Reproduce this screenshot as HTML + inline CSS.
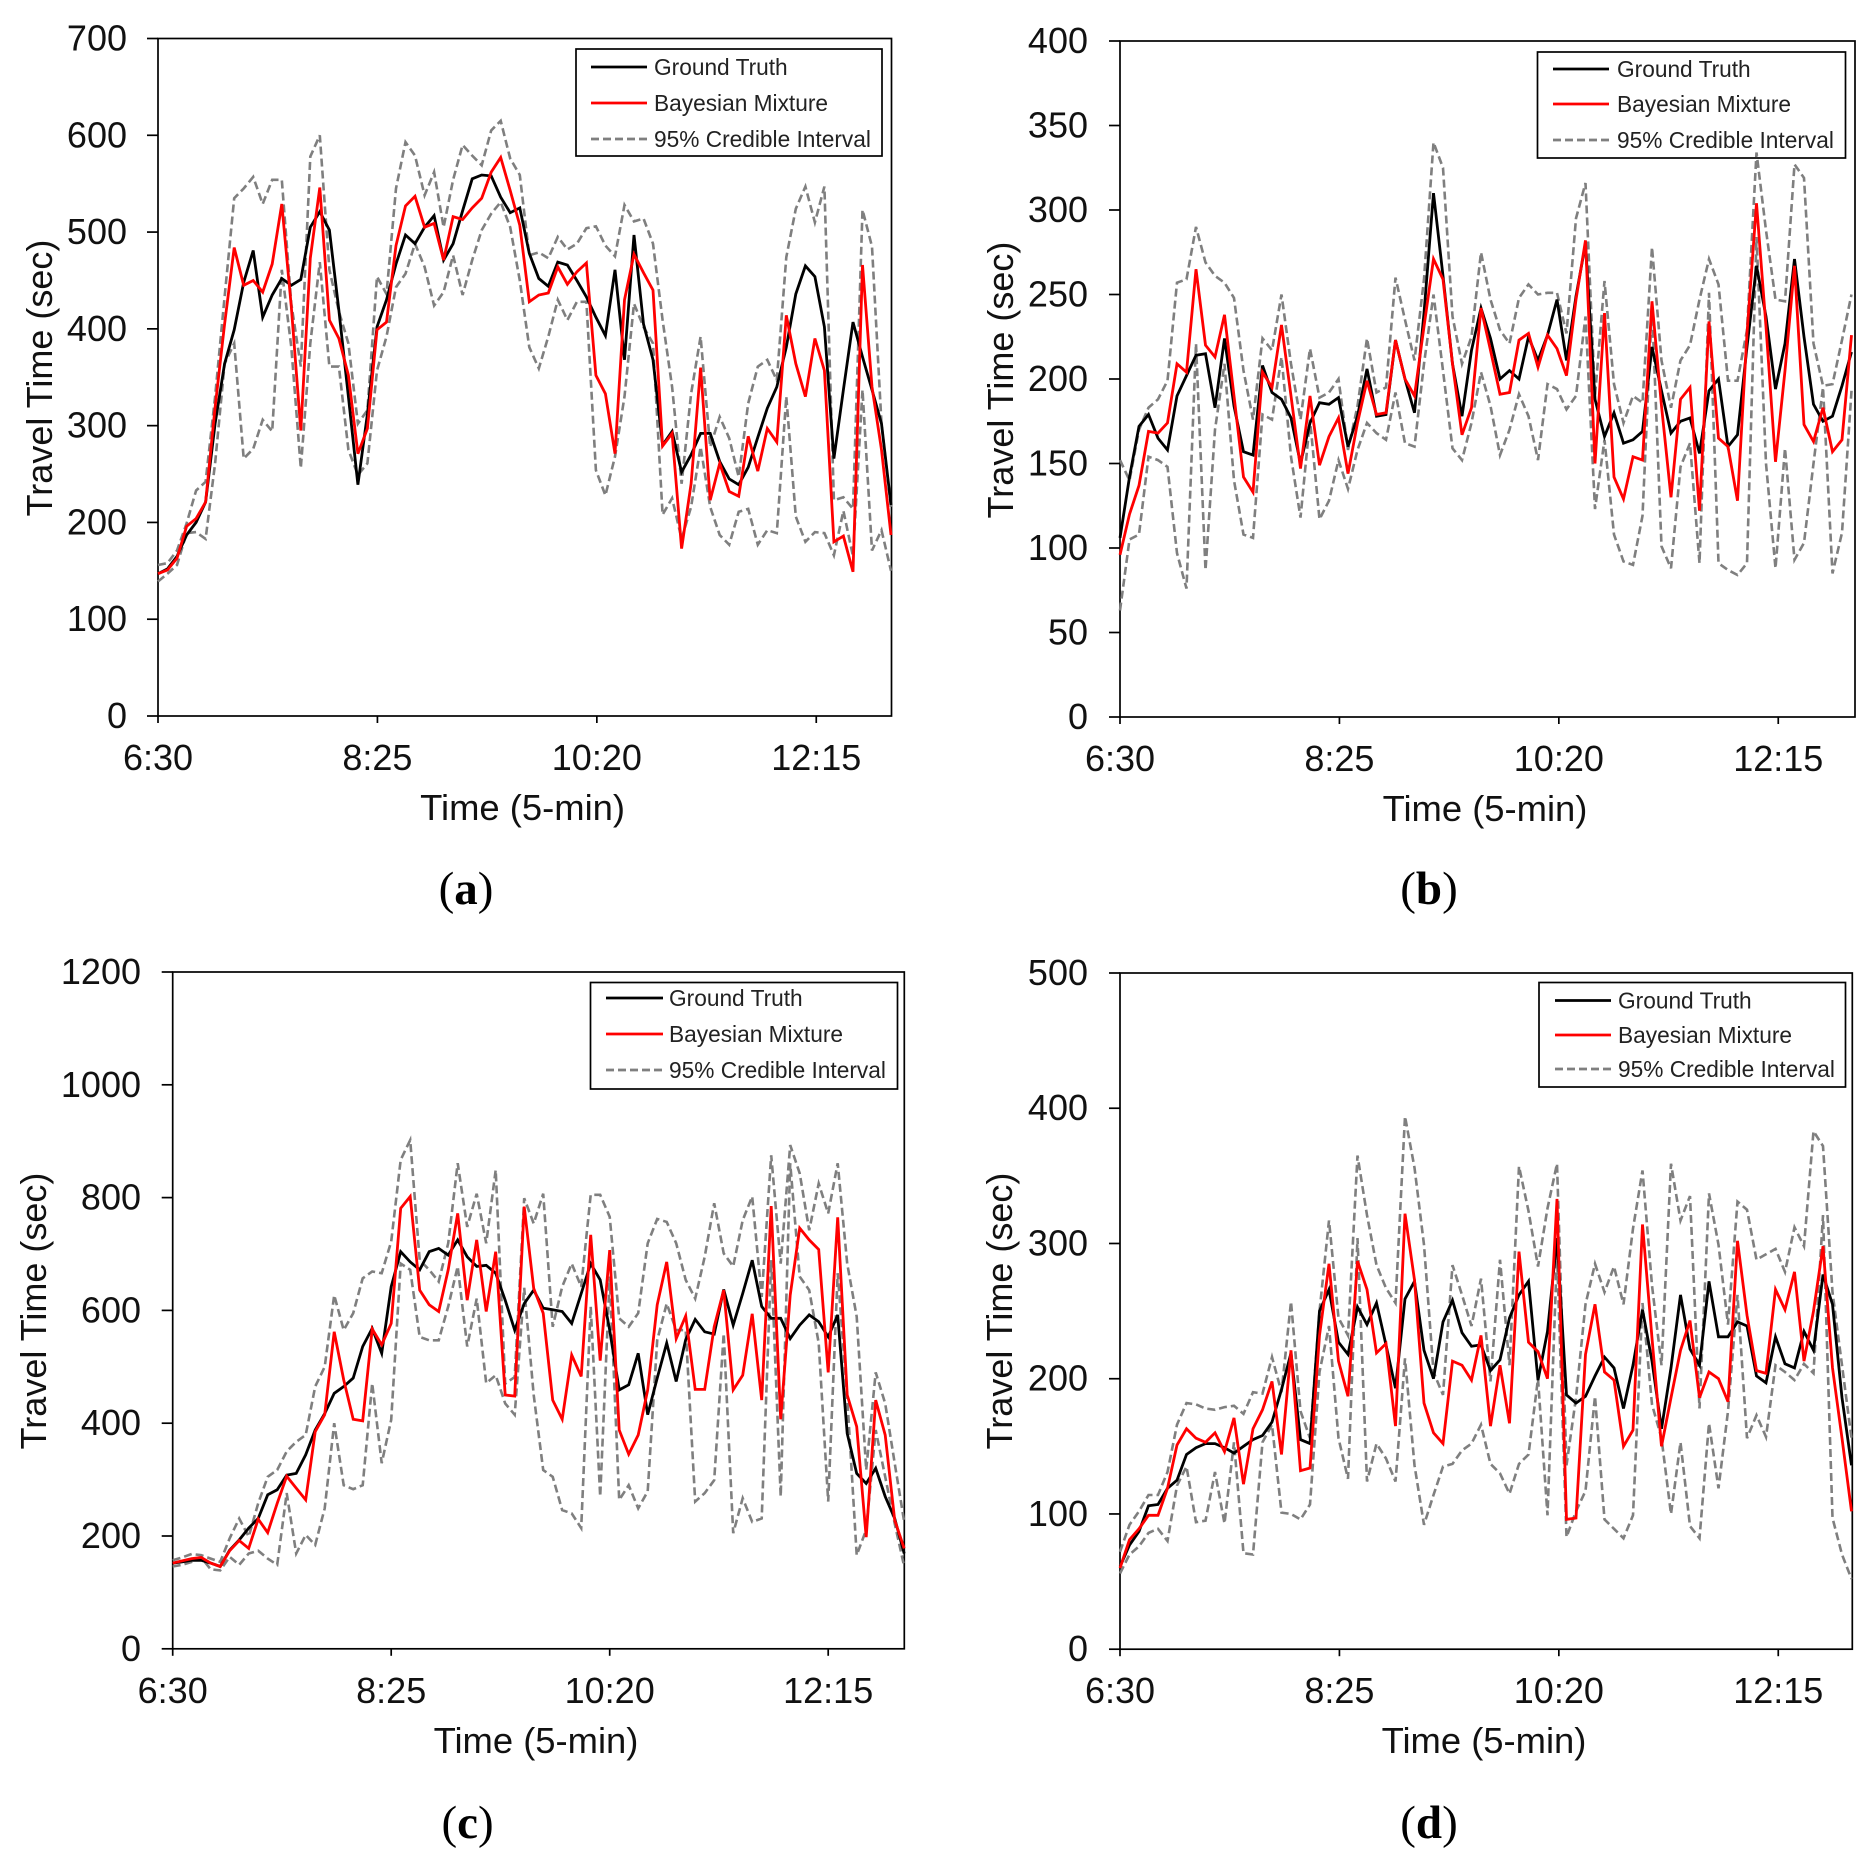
<!DOCTYPE html>
<html lang="en">
<head>
<meta charset="utf-8">
<title>Travel time predictions</title>
<style>
html,body{margin:0;padding:0;background:#fff;}
svg{display:block;font-family:"Liberation Sans",Arial,sans-serif;}
</style>
</head>
<body>
<svg id="figure" xmlns="http://www.w3.org/2000/svg" width="1875" height="1859" viewBox="0 0 1875 1859"></svg>
<script>
const xTickIndex = [0, 23, 46, 69];
const xTickLabels = ["6:30", "8:25", "10:20", "12:15"];
const seriesNames = ["Ground Truth", "Bayesian Mixture", "95% Credible Interval"];

const yTicksA = [0, 100, 200, 300, 400, 500, 600, 700];
const yTicksB = [0, 50, 100, 150, 200, 250, 300, 350, 400];
const yTicksC = [0, 200, 400, 600, 800, 1000, 1200];
const yTicksD = [0, 100, 200, 300, 400, 500];

const truthA = [147,152,165,187,200,221,302,364,399,448,481,412,435,452,445,451,505,521,502,419,330,239,312,402,430,467,497,488,505,517,471,488,522,555,559,558,536,520,525,478,452,444,469,466,450,433,412,393,461,368,497,405,368,280,294,252,270,292,292,263,245,239,257,288,318,340,381,436,465,454,402,266,337,407,371,337,302,218];
const mixtureA = [147,151,163,196,204,221,319,405,484,445,450,438,467,529,423,295,473,546,409,390,352,271,297,399,407,486,527,537,505,509,471,516,513,525,535,562,577,543,507,428,435,437,464,446,459,468,352,333,271,430,477,458,440,279,292,173,240,360,223,261,232,227,289,253,297,283,414,364,330,390,357,180,186,149,466,340,275,187];
const upperA = [156,158,171,199,233,242,330,433,535,545,557,529,554,554,426,361,578,600,461,418,385,302,316,454,436,545,593,579,538,562,505,554,590,579,569,605,615,576,559,476,479,473,495,482,488,504,506,486,475,528,511,514,488,409,340,240,333,392,278,309,287,247,323,361,368,347,474,524,547,510,547,223,226,214,523,485,302,216];
const lowerA = [139,147,156,189,190,183,261,364,385,266,276,306,294,461,381,256,385,469,361,361,275,249,261,357,392,443,457,488,464,424,438,476,435,471,502,519,531,505,450,381,359,392,430,409,428,428,254,228,268,330,426,402,385,208,225,183,216,278,216,187,177,211,214,177,192,189,330,206,180,190,189,166,212,165,337,171,192,150];

const truthB = [106,142,172,179,165,158,190,202,214,215,183,224,184,157,155,208,192,188,177,150,174,186,185,189,160,178,206,178,179,223,200,180,239,310,261,209,178,217,242,224,200,205,200,225,211,226,247,211,249,280,188,166,180,162,164,169,219,193,168,175,177,156,193,200,160,167,219,267,237,194,221,271,225,185,175,178,196,216];
const mixtureB = [96,120,137,169,168,174,209,204,265,220,213,238,190,142,133,204,195,232,190,147,190,149,166,177,144,174,199,179,180,223,200,190,231,271,259,209,167,183,242,217,191,192,223,227,207,226,218,202,247,282,150,239,142,129,154,152,246,184,130,188,195,122,234,165,160,128,227,304,231,151,205,267,173,163,183,157,164,226];
const upperB = [152,140,170,183,188,199,257,259,290,269,261,257,248,205,176,224,217,250,209,176,218,189,192,200,158,184,224,192,195,260,235,211,259,340,325,237,209,225,275,247,229,221,248,256,250,251,251,227,295,316,190,258,197,174,190,186,278,211,183,211,220,247,271,256,199,199,229,334,288,247,246,327,319,221,196,197,223,250];
const lowerB = [63,105,108,154,152,148,97,76,221,87,170,209,140,108,106,179,176,213,154,118,176,117,128,152,135,158,174,168,164,192,162,160,209,250,205,159,152,174,204,184,155,170,191,178,152,197,194,182,190,237,123,164,108,92,90,119,243,101,88,148,162,91,251,91,87,84,91,284,150,88,159,93,103,150,195,85,109,193];

const truthC = [152,154,157,157,152,146,175,193,214,231,273,282,308,311,344,388,417,453,465,480,536,568,524,642,704,686,672,704,710,698,725,695,678,680,666,618,565,612,636,604,601,598,577,630,683,654,565,459,468,524,415,480,542,474,548,584,562,558,637,574,630,689,607,586,586,550,574,592,580,553,592,382,311,293,320,270,231,169];
const mixtureC = [152,156,160,162,152,146,174,192,178,230,206,258,306,285,264,385,415,562,477,407,404,567,539,577,781,802,636,610,598,672,772,618,725,598,704,450,448,784,639,595,441,407,521,483,734,511,707,388,345,379,459,610,686,550,590,460,460,571,636,459,485,594,441,785,407,627,746,725,708,490,765,450,394,198,441,379,228,178];
const upperC = [157,162,168,166,160,154,196,231,199,258,305,317,350,367,379,465,500,627,565,595,657,669,666,722,867,902,689,672,651,719,861,748,807,719,849,470,482,799,754,807,571,642,683,642,805,805,766,586,571,595,719,762,757,719,654,621,695,790,701,678,760,802,624,875,683,893,843,742,825,772,861,683,589,317,490,435,329,225];
const lowerC = [146,149,154,162,141,139,163,149,169,174,160,149,276,169,202,184,249,400,290,283,290,471,329,406,683,672,553,547,547,607,678,536,621,471,485,435,415,640,450,317,305,246,240,214,607,270,660,264,290,249,279,547,612,565,565,261,276,299,559,205,267,225,231,689,270,861,660,636,542,261,666,447,166,211,388,305,222,146];

const truthD = [61,77,87,106,107,119,125,144,149,152,152,149,145,150,155,158,168,192,219,155,152,250,266,227,218,253,240,256,225,193,259,272,221,200,242,258,234,224,225,206,214,245,262,272,199,235,304,188,182,187,202,216,208,178,210,251,213,163,208,262,222,210,272,231,231,242,239,202,197,231,211,208,235,221,277,255,186,136];
const mixtureD = [60,81,89,99,99,119,151,163,156,153,160,146,171,122,163,177,198,144,221,132,134,232,285,213,187,287,266,219,226,165,322,273,182,160,152,213,210,199,232,165,210,167,294,227,220,200,333,96,97,218,255,205,199,150,162,314,230,150,186,221,243,186,205,200,183,302,247,206,204,266,251,279,213,250,298,208,156,102];
const upperD = [72,92,102,114,114,131,166,182,181,178,177,179,180,174,190,189,216,190,257,176,156,250,317,245,232,365,321,284,267,256,394,356,299,205,188,284,262,239,274,198,288,210,357,324,283,326,359,136,186,255,285,264,283,255,311,354,269,210,359,317,335,178,337,299,240,331,325,288,292,296,279,312,298,383,372,264,210,156];
const lowerD = [56,70,76,86,89,80,121,135,94,95,131,93,153,71,70,153,166,101,100,96,107,205,239,156,126,304,124,152,141,124,215,136,92,114,135,137,147,152,166,137,130,115,137,144,200,99,292,83,102,117,187,96,89,82,99,256,181,156,100,153,91,82,167,119,176,262,156,173,157,210,205,199,211,204,321,97,70,52];

const NS = "http://www.w3.org/2000/svg";
const fig = document.getElementById("figure");

function make(tag, parent, props, text) {
  const el = document.createElementNS(NS, tag);
  for (const k in props) el.setAttribute(k, props[k]);
  if (text !== undefined) el.textContent = text;
  parent.appendChild(el);
  return el;
}

function drawPanel(p) {
  const g = make("g", fig, {});
  
  

  const maxY = p.yTicks[p.yTicks.length - 1];
  const xScale = i => p.left + i * p.step;
  const xTickScale = i => p.left + i * p.tickStep;
  const yScale = v => p.bottom - (v / maxY) * (p.bottom - p.top);

  const frame = make("rect", g, {x: p.left, y: p.top, width: p.right - p.left, height: p.bottom - p.top, fill: "#fff", stroke: "#000", "stroke-width": 1.7});
  
  

  p.yTicks.forEach(v => {
    const t = make("line", g, {x1: p.left - 11, x2: p.left, y1: yScale(v), y2: yScale(v), stroke: "#000", "stroke-width": 1.7});
    
    
    const l = make("text", g, {x: p.yLabelRight, y: yScale(v) + 12, "text-anchor": "end", "font-size": 36, fill: "#111"}, String(v));
    
    
  });

  xTickIndex.forEach((idx, n) => {
    const t = make("line", g, {x1: xTickScale(idx), x2: xTickScale(idx), y1: p.bottom, y2: p.bottom + 7, stroke: "#000", "stroke-width": 1.7});
    
    
    const l = make("text", g, {x: xTickScale(idx), y: p.bottom + 54, "text-anchor": "middle", "font-size": 36, fill: "#111"}, xTickLabels[n]);
    
    
  });

  const yt = make("text", g, {x: 0, y: 0, transform: "translate(" + p.yTitleX + " " + p.yTitleY + ") rotate(-90)", "text-anchor": "middle", "font-size": 36, fill: "#111"}, "Travel Time (sec)");
  
  

  const xt = make("text", g, {x: p.xTitleX, y: p.xTitleY, "text-anchor": "middle", "font-size": 36.4, fill: "#111"}, "Time (5-min)");
  
  

  const lg = make("g", g, {});
  
  
  const box = make("rect", lg, {x: p.legend.x1, y: p.legend.y1, width: p.legend.x2 - p.legend.x1, height: p.legend.y2 - p.legend.y1, fill: "#fff", stroke: "#000", "stroke-width": 1.7});
  
  
  const colours = ["#000", "#ff0000", "#7f7f7f"];
  seriesNames.forEach((name, n) => {
    const ly = p.legend.rows[n];
    const sw = make("line", lg, {x1: p.legend.lineX1, x2: p.legend.lineX2, y1: ly, y2: ly, stroke: colours[n], "stroke-width": 2.8, "stroke-dasharray": n === 2 ? "8 4" : "none"});
    
    
    const lt = make("text", lg, {x: p.legend.textX, y: ly + 8, "font-size": 22.7, fill: "#222"}, name);
    
    
  });

  const path = arr => arr.map((v, i) => xScale(i).toFixed(1) + "," + yScale(v).toFixed(1)).join(" ");
  const low = make("polyline", g, {points: path(p.lower), fill: "none", stroke: "#7f7f7f", "stroke-width": 2.6, "stroke-dasharray": "8 4"});
  
  
  const up = make("polyline", g, {points: path(p.upper), fill: "none", stroke: "#7f7f7f", "stroke-width": 2.6, "stroke-dasharray": "8 4"});
  
  
  const tr = make("polyline", g, {points: path(p.truth), fill: "none", stroke: "#000", "stroke-width": 2.8, "stroke-linejoin": "miter"});
  
  
  const mx = make("polyline", g, {points: path(p.mixture), fill: "none", stroke: "#ff0000", "stroke-width": 2.8, "stroke-linejoin": "miter"});
  
  

  const cap = make("text", g, {x: p.capX, y: p.capY, "text-anchor": "middle", "font-size": 47, fill: "#000", style: 'font-family:"Liberation Serif",serif'});
  
  
  make("tspan", cap, {}, "(");
  make("tspan", cap, {"font-weight": "bold"}, p.id);
  make("tspan", cap, {}, ")");
}

drawPanel({id: "a", left: 158, right: 891.5, top: 38.5, bottom: 716, step: 9.52, tickStep: 9.54, yTicks: yTicksA, yLabelRight: 127, yTitleX: 52, yTitleY: 378, xTitleX: 522.6, xTitleY: 820, capX: 466, capY: 904,
  truth: truthA, mixture: mixtureA, upper: upperA, lower: lowerA,
  legend: {x1: 576, x2: 882, y1: 49, y2: 156, rows: [67, 103, 139], lineX1: 591, lineX2: 647, textX: 654}});
drawPanel({id: "b", left: 1120, right: 1855, top: 41, bottom: 717, step: 9.5, tickStep: 9.54, yTicks: yTicksB, yLabelRight: 1088, yTitleX: 1013, yTitleY: 380, xTitleX: 1485, xTitleY: 821, capX: 1429, capY: 904,
  truth: truthB, mixture: mixtureB, upper: upperB, lower: lowerB,
  legend: {x1: 1537.5, x2: 1845.5, y1: 52, y2: 158, rows: [69, 104, 140], lineX1: 1553, lineX2: 1609, textX: 1617}});
drawPanel({id: "c", left: 172.7, right: 904.3, top: 972, bottom: 1648.8, step: 9.5, tickStep: 9.5, yTicks: yTicksC, yLabelRight: 141, yTitleX: 46, yTitleY: 1311, xTitleX: 536, xTitleY: 1753, capX: 467.6, capY: 1838,
  truth: truthC, mixture: mixtureC, upper: upperC, lower: lowerC,
  legend: {x1: 590.5, x2: 897.5, y1: 982.5, y2: 1089, rows: [998, 1034, 1070], lineX1: 606, lineX2: 663, textX: 669}});
drawPanel({id: "d", left: 1120, right: 1852.3, top: 973, bottom: 1649.2, step: 9.5, tickStep: 9.54, yTicks: yTicksD, yLabelRight: 1088, yTitleX: 1012, yTitleY: 1311, xTitleX: 1484, xTitleY: 1753, capX: 1429, capY: 1838,
  truth: truthD, mixture: mixtureD, upper: upperD, lower: lowerD,
  legend: {x1: 1539, x2: 1845.5, y1: 982.5, y2: 1087, rows: [1000.5, 1035, 1069], lineX1: 1555, lineX2: 1611, textX: 1618}});
</script>
</body>
</html>
